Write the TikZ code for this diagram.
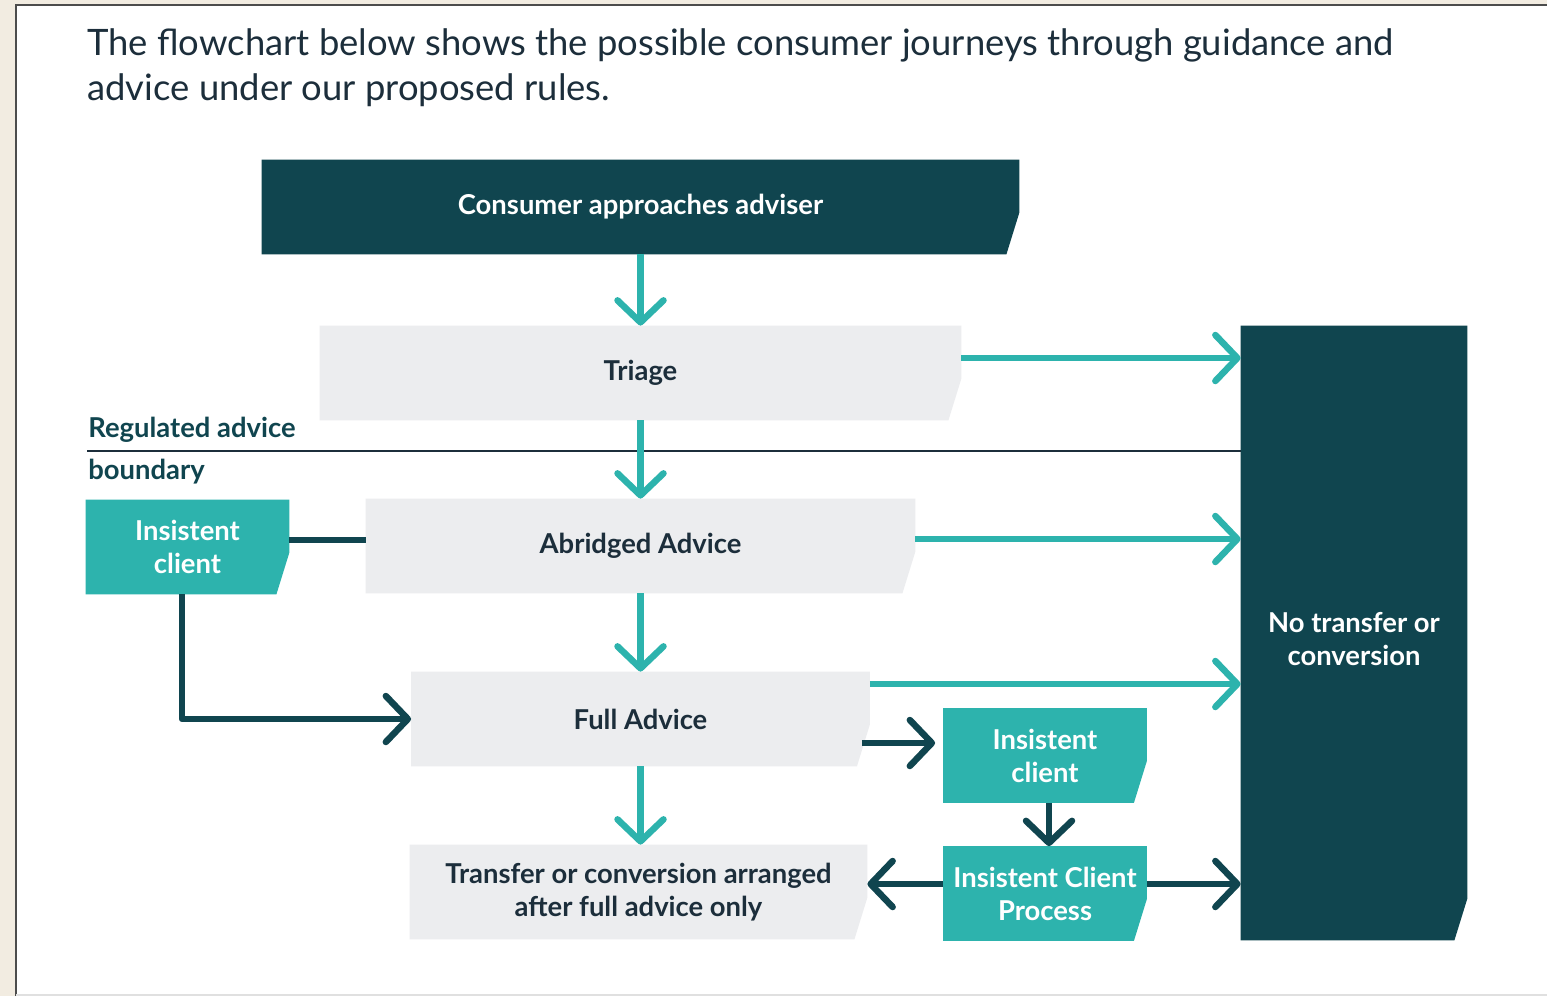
\documentclass[tikz,border=0pt]{standalone}
\usepackage{fontspec}
\setmainfont{Lato}
\usepackage{xcolor}
\usepackage{tikz}
\usetikzlibrary{positioning, shapes.geometric}
\usetikzlibrary{calc, arrows.meta, backgrounds}
\definecolor{dteal}{HTML}{10454F}
\definecolor{lteal}{HTML}{2DB3AD}
\definecolor{lgrey}{HTML}{ECEDEF}
\definecolor{ink}{HTML}{1C2E3B}
\definecolor{paper}{HTML}{F2ECE1}
\tikzstyle{darkbox} = [rectangle, minimum height=47pt, text centered, align=center, text=white, font=\bfseries\fontsize{13.7}{16.5}\selectfont]
\tikzstyle{greybox} = [rectangle, minimum height=47pt, text centered, align=center, text=ink, font=\bfseries\fontsize{13.7}{16.5}\selectfont]
\tikzstyle{tealbox} = [rectangle, minimum width=101.5pt, minimum height=47pt, text centered, align=center, text=white, font=\bfseries\fontsize{13.7}{16.5}\selectfont]
\tikzstyle{tarrow} = [line width=3.25pt, lteal, -{Straight Barb[length=11pt,width=23pt,round]}]
\tikzstyle{darrow} = [line width=3.25pt, dteal, -{Straight Barb[length=11pt,width=23pt,round]}]
\tikzstyle{heading} = [anchor=base west, inner sep=0pt, text=ink, font=\fontsize{18.2}{22.5}\selectfont]
\tikzstyle{bound} = [anchor=base west, inner sep=0pt, text=dteal, font=\bfseries\fontsize{13.7}{16.5}\selectfont]

\begin{document}
\begin{tikzpicture}[x=0.5pt, y=-0.5pt, node distance=86.5pt]
		\useasboundingbox (0,0) rectangle (1547,996);
		\node (title) [heading] at (87,55) {The flowchart below shows the possible consumer journeys through guidance and};
		\node (title2) [heading] at (87,100) {advice under our proposed rules.};
		% main column
		\node (start) [darkbox, minimum width=378.5pt] at (640.5,207) {Consumer approaches adviser};
		\node (triage) [greybox, minimum width=320.5pt, below of=start, yshift=3.5pt] {Triage};
		\node (abr) [greybox, minimum width=274.5pt, below of=triage] {Abridged Advice};
		\node (full) [greybox, minimum width=229pt, below of=abr] {Full Advice};
		\node (transf) [greybox, minimum width=228.5pt, below of=full, xshift=-1pt] {Transfer or conversion arranged\\after full advice only};
		% side boxes
		\node (nono) [darkbox, minimum width=113pt, minimum height=307pt] at (1354,633) {\raisebox{-8.5pt}[0pt][0pt]{\begin{tabular}{@{}c@{}}No transfer or\\conversion\end{tabular}}};
		\node (ins1) [tealbox] at (187.5,547) {Insistent\\client};
		\node (ins2) [tealbox] at (1045,755.5) {Insistent\\client};
		\node (icp) [tealbox, below of=ins2, yshift=17.5pt] {Insistent Client\\Process};
		% boundary
		\coordinate (bnd) at (87,451);
		\draw [line width=1pt, ink] (bnd) -- (bnd -| nono.west);
		\node (lab1) [bound] at (88,437) {Regulated advice};
		\node (lab2) [bound] at (88,479) {boundary};
		% arrows
		\draw [tarrow](start) -- (triage);
		\draw [tarrow](triage) -- (abr);
		\draw [tarrow](abr) -- (full);
		\draw [tarrow](full.south) -- (full.south |- transf.north);
		\draw [tarrow]([yshift=7.5pt]triage.east) -- ([yshift=7.5pt]triage.east -| nono.west);
		\draw [tarrow]([yshift=3.5pt]abr.east) -- ([yshift=3.5pt]abr.east -| nono.west);
		\draw [tarrow]([yshift=17.5pt]full.east) -- ([yshift=17.5pt]full.east -| nono.west);
		\draw [darrow]([xshift=-4pt,yshift=-12pt]full.east) -- ([xshift=-4pt,yshift=-12pt]full.east -| ins2.west);
		\draw [darrow]([xshift=2pt]ins2.south) -- ([xshift=2pt]icp.north);
		\draw [darrow]([yshift=4.75pt]icp.west) -- ([yshift=4.75pt]icp.west -| transf.east);
		\draw [darrow]([yshift=4.75pt]icp.east) -- ([yshift=4.75pt]icp.east -| nono.west);
		\draw [line width=3.25pt, dteal]([yshift=3.5pt]ins1.east) -- ([yshift=3.5pt]ins1.east -| abr.west);
		\draw [darrow, line join=round]([xshift=-2.75pt]ins1.south) |- (full.west);
		% fills behind
		\begin{scope}[on background layer]
			\fill[paper] (0,0) rectangle (1547,996);
			\fill[white] (16,5) rectangle (1547,995);
			\draw[line width=1pt, black!70] (16,996) -- (16,5) -- (1547,5);
			\draw[line width=1pt, black!12] (16,995) -- (1547,995);
			\foreach \n/\c in {start/dteal, triage/lgrey, abr/lgrey, full/lgrey, transf/lgrey, nono/dteal, ins1/lteal, ins2/lteal, icp/lteal}
				\fill[\c] (\n.north west) -- (\n.north east) -- ([yshift=21pt]\n.south east) -- ([xshift=-6.5pt]\n.south east) -- (\n.south west) -- cycle;
		\end{scope}
	\end{tikzpicture}
\end{document}
